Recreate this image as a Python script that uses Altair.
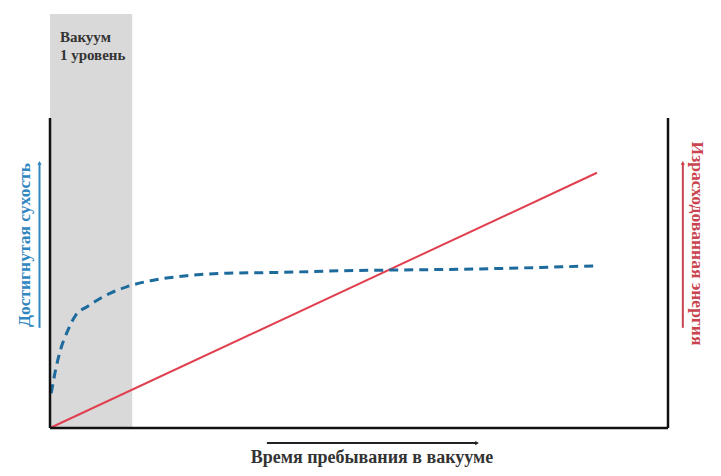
import altair as alt
import pandas as pd

# ---- data ----
time_blue = [0.02, 0.09, 0.17, 0.28, 0.42, 0.60, 0.77, 0.98, 1.25, 1.63, 2.21, 2.86, 3.51, 4.74, 6.96, 8.85]
dry_blue = [11.2, 18.7, 25.2, 31.1, 36.5, 39.1, 41.3, 43.5, 45.6, 47.5, 49.1, 49.9, 50.1, 50.7, 51.3, 52.3]
time_red = [0.0, 8.85]
energy_red = [0.0, 82.3]
vac_band = [0.0, 1.33]
x_dom = [0, 10]
y_axis_top = 100
y_dom = [0, 133.5]

label_vac = ["Вакуум", "1 уровень"]
label_left = "Достигнутая сухость"
label_right = "Израсходованная энергия"
label_bottom = "Время пребывания в вакууме"

FONT = "Liberation Serif"
BLUE = "#1d6a9c"
BLUE_T = "#2f86c0"
RED = "#e0404f"
RED_T = "#c9444f"

xs = alt.Scale(domain=x_dom, nice=False, zero=False)
ys = alt.Scale(domain=y_dom, nice=False, zero=False)

def X(f="x"):
    return alt.X(f"{f}:Q", scale=xs, axis=None)

def Y(f="y"):
    return alt.Y(f"{f}:Q", scale=ys, axis=None)

band = alt.Chart(pd.DataFrame({"x": [vac_band[0]], "x2": [vac_band[1]], "y": [y_dom[0]], "y2": [y_dom[1]]})).mark_rect(
    color="#d9d9d9").encode(x=X(), x2="x2:Q", y=Y(), y2="y2:Q")

vac_text = alt.Chart(pd.DataFrame({"x": [0.16, 0.16], "y": [126.0, 120.2], "t": label_vac})).mark_text(
    align="left", baseline="middle", font=FONT, fontSize=15, fontWeight="bold", color="#333333").encode(
    x=X(), y=Y(), text="t:N")

blue = alt.Chart(pd.DataFrame({"x": time_blue, "y": dry_blue})).mark_line(
    color=BLUE, strokeWidth=3, strokeDash=[9, 6], interpolate="monotone").encode(x=X(), y=Y())

red = alt.Chart(pd.DataFrame({"x": time_red, "y": energy_red})).mark_line(
    color=RED, strokeWidth=2).encode(x=X(), y=Y())

frame_v = alt.Chart(pd.DataFrame({"x": x_dom, "y": [0, 0], "y2": [y_axis_top, y_axis_top]})).mark_rule(
    color="#111111", strokeWidth=2.5).encode(x=X(), y=Y(), y2="y2:Q")
frame_h = alt.Chart(pd.DataFrame({"x": [x_dom[0]], "x2": [x_dom[1]], "y": [0]})).mark_rule(
    color="#111111", strokeWidth=2.5).encode(x=X(), x2="x2:Q", y=Y())

# arrows
arr_left = alt.Chart(pd.DataFrame({"x": [-0.17], "y": [32.3], "y2": [85.5]})).mark_rule(
    color=BLUE_T, strokeWidth=2).encode(x=X(), y=Y(), y2="y2:Q")
arr_left_tip = alt.Chart(pd.DataFrame({"x": [-0.17], "y": [85.5]})).mark_point(
    shape="triangle-up", filled=True, size=18, color=BLUE_T, opacity=1).encode(x=X(), y=Y())
arr_right = alt.Chart(pd.DataFrame({"x": [10.24], "y": [32.3], "y2": [85.5]})).mark_rule(
    color=RED_T, strokeWidth=2).encode(x=X(), y=Y(), y2="y2:Q")
arr_right_tip = alt.Chart(pd.DataFrame({"x": [10.24], "y": [85.5]})).mark_point(
    shape="triangle-up", filled=True, size=18, color=RED_T, opacity=1).encode(x=X(), y=Y())
arr_bot = alt.Chart(pd.DataFrame({"x": [3.51], "x2": [6.91], "y": [-4.84]})).mark_rule(
    color="#222222", strokeWidth=2).encode(x=X(), x2="x2:Q", y=Y())
arr_bot_tip = alt.Chart(pd.DataFrame({"x": [6.91], "y": [-4.84]})).mark_point(
    shape="triangle-right", filled=True, size=18, color="#222222", opacity=1).encode(x=X(), y=Y())

txt_left = alt.Chart(pd.DataFrame({"x": [-0.40], "y": [59.0], "t": [label_left]})).mark_text(
    angle=270, align="center", baseline="middle", font=FONT, fontSize=17.5, fontWeight="bold", color=BLUE_T).encode(
    x=X(), y=Y(), text="t:N")
txt_right = alt.Chart(pd.DataFrame({"x": [10.47], "y": [59.5], "t": [label_right]})).mark_text(
    angle=90, align="center", baseline="middle", font=FONT, fontSize=17.5, fontWeight="bold", color=RED_T).encode(
    x=X(), y=Y(), text="t:N")
txt_bot = alt.Chart(pd.DataFrame({"x": [5.21], "y": [-9.8], "t": [label_bottom]})).mark_text(
    align="center", baseline="middle", font=FONT, fontSize=18, fontWeight="bold", color="#333333").encode(
    x=X(), y=Y(), text="t:N")

chart = alt.layer(
    band, vac_text, red, blue, frame_v, frame_h,
    arr_left, arr_left_tip, arr_right, arr_right_tip, arr_bot, arr_bot_tip,
    txt_left, txt_right, txt_bot,
).properties(
    width=618, height=414,
    padding={"left": 42, "top": 6, "right": 45, "bottom": 40},
    autosize=alt.AutoSizeParams(type="none"),
    background="white",
).configure_view(stroke=None)

chart.save("out.html", embed_options={"renderer": "svg", "actions": False})
